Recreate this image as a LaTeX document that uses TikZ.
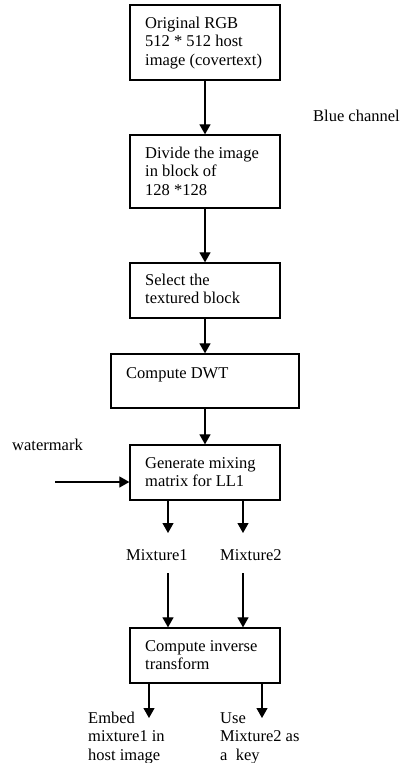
\documentclass[tikz,border=0pt]{standalone}
\usepackage{fontspec}
\setmainfont{Liberation Serif}
\usetikzlibrary{arrows.meta}
\begin{document}
\begin{tikzpicture}[x=1pt,y=-1pt,
  box/.style={draw,line width=1.3pt,rectangle,inner sep=0pt},
  txt/.style={inner sep=0pt,anchor=north west,align=left,font=\fontsize{16.5}{18.5}\selectfont},
  arr/.style={line width=1.2pt,-{Triangle[length=10pt,width=11pt]}}]
\useasboundingbox (0,0) rectangle (402,763);
% boxes
\node[box,minimum width=150pt,minimum height=75pt] (b1) at (205,42.5) {};
\node[box,minimum width=150pt,minimum height=73pt] (b2) at (205,171.5) {};
\node[box,minimum width=150pt,minimum height=55pt] (b3) at (205,290.5) {};
\node[box,minimum width=188pt,minimum height=54pt] (b4) at (205,381) {};
\node[box,minimum width=150pt,minimum height=55pt] (b5) at (205,472.5) {};
\node[box,minimum width=150pt,minimum height=55pt] (b6) at (205,655.5) {};
% texts (anchor = baseline - 12.95)
\node[txt] (t1) at (145,15) {\strut Original RGB\\512 * 512 host\\image (covertext)};
\node[txt] (t2) at (145,145) {\strut Divide the image\\in block of\\128 *128};
\node[txt] (t3) at (145,272) {\strut Select the\\textured block};
\node[txt] (t4) at (126,365) {\strut Compute DWT};
\node[txt] (t5) at (145,455) {\strut Generate mixing\\matrix for LL1};
\node[txt] (t6) at (145,638) {\strut Compute inverse\\transform};
\node[txt] (blue) at (313,108) {\strut Blue channel};
\node[txt] (wm) at (12,437) {\strut watermark};
\node[txt] (m1) at (126,547) {\strut Mixture1};
\node[txt] (m2) at (220,547) {\strut Mixture2};
\node[txt] (e1) at (88,710) {\strut Embed\\mixture1 in\\host image};
\node[txt] (e2) at (220,710) {\strut Use\\Mixture2 as\\a\ \ key};
% coordinates
\coordinate (ws) at (55,482);
\coordinate (c1) at (168,533);
\coordinate (c2) at (243,533);
\coordinate (d1) at (168,573);
\coordinate (d2) at (243,573);
\coordinate (f1) at (149,718);
\coordinate (f2) at (262,718);
% arrows
\draw[arr] (b1) -- (b2);
\draw[arr] (b2) -- (b3);
\draw[arr] (b3) -- (b4);
\draw[arr] (b4) -- (b5);
\draw[arr] (ws) -- (ws -| b5.west);
\draw[arr] (c1 |- b5.south) -- (c1);
\draw[arr] (c2 |- b5.south) -- (c2);
\draw[arr] (d1) -- (d1 |- b6.north);
\draw[arr] (d2) -- (d2 |- b6.north);
\draw[arr] (f1 |- b6.south) -- (f1);
\draw[arr] (f2 |- b6.south) -- (f2);
\end{tikzpicture}
\end{document}
